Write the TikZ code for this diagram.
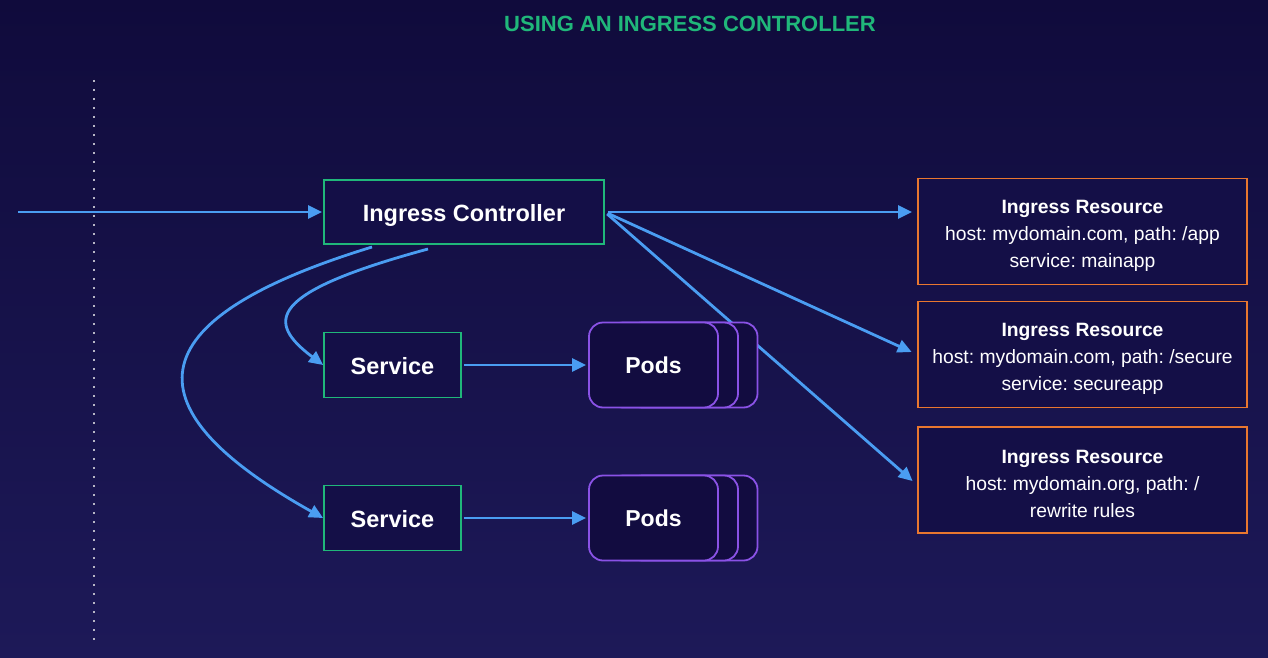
\documentclass[tikz,border=0pt]{standalone}
\usepackage{fontspec}
\setmainfont{Liberation Sans}
\usepackage{xcolor}
\usetikzlibrary{arrows.meta,shapes}
\definecolor{bgtop}{HTML}{100B3C}
\definecolor{bgbot}{HTML}{1D1958}
\definecolor{boxfill}{HTML}{140F47}
\definecolor{podfill}{HTML}{120C40}
\definecolor{kgreen}{HTML}{20B77A}
\definecolor{kblue}{HTML}{4A9DF2}
\definecolor{korange}{HTML}{E9772F}
\definecolor{kpurple}{HTML}{8A52E6}
\tikzset{
  flow/.style={draw=kblue, line width=2.8pt, -{Triangle[length=14pt,width=13pt]}},
  greenbox/.style={draw=kgreen, line width=1.8pt, fill=boxfill, inner sep=0pt, text=white,
    font=\fontsize{23.5}{28}\selectfont\bfseries},
  podbox/.style={draw=kpurple, line width=1.8pt, fill=podfill, rounded corners=14pt, inner sep=0pt,
    minimum width=129pt, minimum height=85pt, text=white, font=\fontsize{23}{28}\selectfont\bfseries},
  resbox/.style={draw=korange, line width=1.8pt, fill=boxfill, inner sep=0pt, align=center,
    minimum width=329pt, minimum height=106pt, text=white, font=\frenchspacing\fontsize{19.3}{27}\selectfont}
}
\newcommand\resrow{\rule{0pt}{22pt}\textbf{Ingress Resource}}
\begin{document}
\begin{tikzpicture}[x=1pt, y=-1pt]
\shade[top color=bgtop, bottom color=bgbot] (0,0) rectangle (1268,658);
\useasboundingbox (0,0) rectangle (1268,658);

\node[text=kgreen, font=\fontsize{22}{26}\selectfont\bfseries] (title) at (690,24) {USING AN INGRESS CONTROLLER};
\draw[white!70!bgtop, line width=2pt, dash pattern=on 2pt off 7pt] (94,80) -- (94,642);

% controller, services, resources
\node[greenbox, minimum width=280pt, minimum height=64pt] (ctrl) at (464,212) {\rule{0pt}{23pt}Ingress Controller};
\foreach \y/\n in {365/A, 518/B}
  \node[greenbox, minimum width=137pt, minimum height=65pt] (svc\n) at (392.5,\y) {\rule{0pt}{20pt}Service};

\node[resbox] (resA) at (1082.5,231.5) {\resrow\\host: mydomain.com, path: /app\\service: mainapp};
\node[resbox] (resB) at (1082.5,354.5) {\resrow\\host: mydomain.com, path: /secure\\service: secureapp};
\node[resbox] (resC) at (1082.5,480) {\resrow\\host: mydomain.org, path: /\\rewrite rules};

% connectors
\coordinate (in) at (18,212);
\coordinate (ctrlA) at (372,247);
\coordinate (ctrlB) at (428,249);
\draw[flow, shorten >=1pt] (in) -- (ctrl.west);
\draw[flow, shorten <=3pt, shorten >=5pt] (ctrl.east) -- (ctrl.east -| resA.west);
\draw[flow, shorten <=3pt, shorten >=6pt] (ctrl.east) -- (resB.west);
\draw[flow, shorten <=3pt, shorten >=6pt] (ctrl.east) -- ([yshift=-5pt]resC.west);
\draw[flow] (ctrlB) .. controls (266,293) and (266,322) .. (svcA.west);
\draw[flow] (ctrlA) .. controls (130,321) and (130,410) .. (svcB.west);

% pod stacks
\foreach \y/\n in {365/A, 518/B} {
  \node[podbox] (pods\n c) at (693,\y) {};
  \node[podbox] (pods\n b) at (673.5,\y) {};
  \node[podbox] (pods\n) at (653.5,\y) {Pods};
  \draw[flow, shorten <=2pt, shorten >=2pt] (svc\n) -- (pods\n);
}
\end{tikzpicture}
\end{document}
